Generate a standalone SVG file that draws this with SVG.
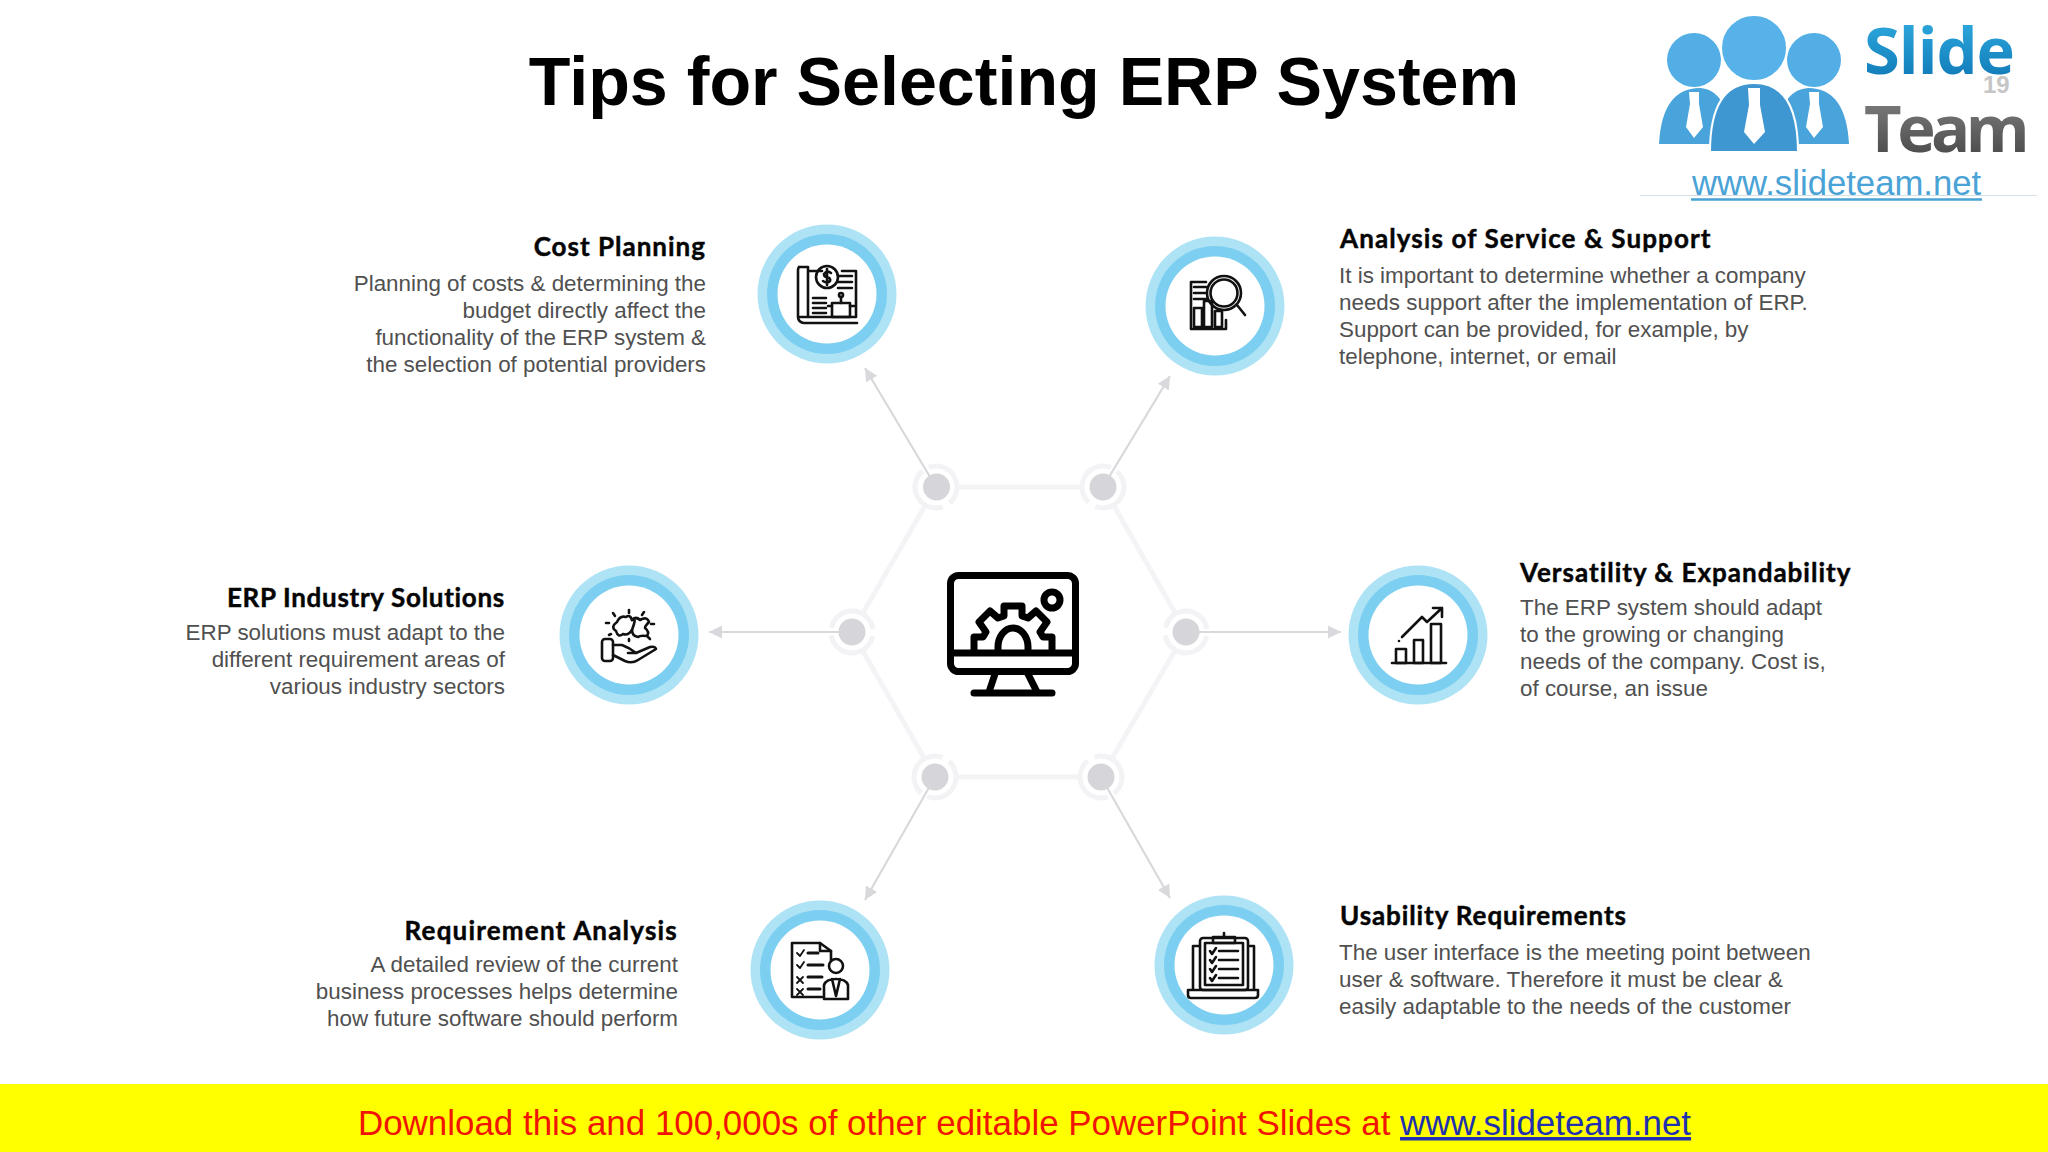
<svg xmlns="http://www.w3.org/2000/svg" xmlns:xlink="http://www.w3.org/1999/xlink" width="2048" height="1152" viewBox="0 0 2048 1152">
<style>
.h{font:700 26px Lato,"Liberation Sans",sans-serif;letter-spacing:1px;fill:#050505;stroke:#050505;stroke-width:.45}
.b{font:400 22.4px "Liberation Sans",Arial,sans-serif;fill:#505050}
.r{text-anchor:end}
.ic{fill:none;stroke:#111;stroke-width:2.6;stroke-linejoin:round;stroke-linecap:round}
.hex{fill:none;stroke:#f4f3f6;stroke-width:5}
.ring{fill:none;stroke:#f3f2f5;stroke-width:5;stroke-dasharray:58 8;stroke-dashoffset:-4}
.dot{fill:#d6d5d9}
.arr{fill:none;stroke:#d9d8dc;stroke-width:2.2;marker-end:url(#ah)}
</style>
<defs>
<marker id="ah" markerUnits="userSpaceOnUse" markerWidth="14" markerHeight="14" refX="13" refY="6.5" orient="auto"><path d="M0 0L13 6.5L0 13Z" fill="#d9d8dc"/></marker>
<linearGradient id="sg" x1="0" y1="0" x2="0" y2="1"><stop offset="0" stop-color="#35b4e6"/><stop offset="1" stop-color="#0a70b0"/></linearGradient>
<linearGradient id="tg" x1="0" y1="0" x2="0" y2="1"><stop offset="0" stop-color="#8a8a8a"/><stop offset="1" stop-color="#3f3f3f"/></linearGradient>
<g id="disc"><circle r="69.500" fill="#aee3f6"/><circle r="60" fill="#7ccff0"/><circle r="49.500" fill="#fff"/></g>
</defs>
<rect width="2048" height="1152" fill="#fff"/>
<text x="1024" y="105" text-anchor="middle" font-family="Liberation Sans,Arial,sans-serif" font-weight="700" font-size="68.200" fill="#000">Tips for Selecting ERP System</text>

<g id="connectors">
<path class="hex" d="M957 487H1082M1113.500 505L1175.600 613.800M1175.400 650L1111.600 759M1080 777H956M924.600 758.800L862.400 650.200M862.500 613.800L925.500 505"/>
<path class="arr" d="M936 487L865 368"/>
<path class="arr" d="M1103 487L1170 376"/>
<path class="arr" d="M1186 632H1341"/>
<path class="arr" d="M852 632H709"/>
<path class="arr" d="M935 777L865 900"/>
<path class="arr" d="M1101 777L1170 898"/>
</g>
<g id="hub-nodes">
<g id="hub1"><circle class="ring" cx="936" cy="487" r="21" transform="rotate(-121 936 487)"/><circle class="dot" cx="936.500" cy="487" r="13.500"/></g>
<g id="hub2"><circle class="ring" cx="1103" cy="487" r="21" transform="rotate(-59 1103 487)"/><circle class="dot" cx="1103" cy="487" r="13.500"/></g>
<g id="hub3"><circle class="ring" cx="1186" cy="632" r="21"/><circle class="dot" cx="1186" cy="632" r="13.500"/></g>
<g id="hub4"><circle class="ring" cx="852" cy="632" r="21"/><circle class="dot" cx="852" cy="632" r="13.500"/></g>
<g id="hub5"><circle class="ring" cx="935" cy="777" r="21" transform="rotate(120 935 777)"/><circle class="dot" cx="935" cy="777" r="13.500"/></g>
<g id="hub6"><circle class="ring" cx="1101" cy="777" r="21" transform="rotate(60 1101 777)"/><circle class="dot" cx="1101" cy="777" r="13.500"/></g>
</g>

<g id="center-icon" fill="none" stroke="#000" stroke-width="7" stroke-linejoin="round" stroke-linecap="round">
<rect x="950.500" y="575.500" width="125" height="96" rx="8"/>
<path d="M950.500 653H1075.500"/>
<path d="M974 652V637H983L986 632L979 622L990 611L998 618L1004 616V606H1022V616L1028 618L1036 611L1047 622L1040 632L1043 637H1052V652"/>
<path d="M998 652V647A15 19 0 0 1 1028 647V652"/>
<circle cx="1052" cy="600" r="8"/>
<path d="M995 674L989 692M1028 674L1037 692"/>
<path d="M974 693H1052" stroke-width="7"/>
</g>

<g id="cost-planning">
<use xlink:href="#disc" href="#disc" x="827" y="294"/>
<g class="ic" stroke-width="2.300">
<path d="M799 267H808V317M799 267A5 5 0 0 0 798 270V317H856V271H842M822 271H808M798 317A6 6 0 0 0 804 323H857"/>
<circle cx="827" cy="277" r="11"/>
<path d="M831 273Q827 270 824 274Q824 277 827 277Q831 278 830 281Q827 284 823 281M827 269V285"/>
<path d="M838 276H852M838 282H852M838 288H852M813 298H826M813 303H826M813 308H826M813 313H826"/>
<rect x="832" y="303" width="18" height="14"/><path d="M828 306H832M850 306H854M841 297V303"/><circle cx="841" cy="295" r="2"/>
</g>
<text class="h r" x="706" y="256">Cost Planning</text>
<text class="b r"><tspan x="706" y="291">Planning of costs &amp; determining the</tspan><tspan x="706" y="318">budget directly affect the</tspan><tspan x="706" y="345">functionality of the ERP system &amp;</tspan><tspan x="706" y="372">the selection of potential providers</tspan></text>
</g>

<g id="analysis-of-service">
<use xlink:href="#disc" href="#disc" x="1215" y="306"/>
<g class="ic" stroke-width="2.300">
<path d="M1206 282H1191V329H1226V320"/>
<circle cx="1224" cy="293" r="17"/><circle cx="1224" cy="293" r="13.500"/>
<path d="M1237 305L1245 315"/>
<path d="M1194 287H1206M1194 293H1206M1194 299H1206"/>
<path d="M1194 308H1202V327H1194ZM1204 301H1212V327H1204ZM1215 311H1222V327H1215Z"/>
</g>
<text class="h" x="1340" y="248" style="letter-spacing:1.100px">Analysis of Service &amp; Support</text>
<text class="b"><tspan x="1339" y="283">It is important to determine whether a company</tspan><tspan x="1339" y="310">needs support after the implementation of ERP.</tspan><tspan x="1339" y="337">Support can be provided, for example, by</tspan><tspan x="1339" y="364">telephone, internet, or email</tspan></text>
</g>

<g id="versatility">
<use xlink:href="#disc" href="#disc" x="1418" y="635"/>
<g class="ic">
<path d="M1392 663H1446"/>
<rect x="1396" y="649" width="10" height="14"/><rect x="1414" y="640" width="9" height="23"/><rect x="1431" y="624" width="10" height="39"/>
<path d="M1402 637L1422 617L1427 622L1442 608M1433 608H1442V617"/><path d="M1399 641V641"/>
</g>
<text class="h" x="1520" y="582">Versatility &amp; Expandability</text>
<text class="b"><tspan x="1520" y="615">The ERP system should adapt</tspan><tspan x="1520" y="642">to the growing or changing</tspan><tspan x="1520" y="669">needs of the company. Cost is,</tspan><tspan x="1520" y="696">of course, an issue</tspan></text>
</g>

<g id="erp-industry">
<use xlink:href="#disc" href="#disc" x="629" y="635"/>
<g class="ic" stroke-width="2">
<rect x="602" y="639" width="11" height="22" rx="3"/>
<path d="M613 645H622Q630 648 636 653M613 655L625 661Q632 664 638 660L656 649Q655 646 650 647L636 653H628"/>
<path d="M617 622Q620 615 626 617Q630 614 632 620Q636 618 634 624L632 630Q628 636 623 634Q618 638 616 631Q610 627 617 622Z"/>
<path d="M632 620Q636 616 640 620Q647 616 649 622Q645 626 645 628Q650 632 647 636Q640 635 638 637Q632 636 632 630"/>
<path d="M613 613L615 616M629 610V613M644 612L642 615M606 623H609M651 624H654M609 635L611 634M650 639L648 637M629 641V639"/>
</g>
<text class="h r" x="505" y="607" style="letter-spacing:.7px">ERP Industry Solutions</text>
<text class="b r"><tspan x="505" y="640">ERP solutions must adapt to the</tspan><tspan x="505" y="667">different requirement areas of</tspan><tspan x="505" y="694">various industry sectors</tspan></text>
</g>

<g id="requirement-analysis">
<use xlink:href="#disc" href="#disc" x="820" y="970"/>
<g class="ic" stroke-width="2.300">
<path d="M831 961V951L820 943H792V997H822"/>
<path d="M820 943V951H831"/>
<path d="M797 953L800 956L804 950M797 965L800 968L804 962M797 977L803 983M803 977L797 983M797 989L803 995M803 989L797 995" stroke-width="1.800"/>
<path d="M808 953H818M808 965H823M808 977H822M808 989H820" stroke-width="3"/>
<circle cx="836" cy="966" r="7"/>
<path d="M824 999V985Q826 979 836 979Q846 979 848 985V999ZM832 979L836 996L840 979"/>
</g>
<text class="h r" x="678" y="940" style="letter-spacing:1.200px">Requirement Analysis</text>
<text class="b r"><tspan x="678" y="972">A detailed review of the current</tspan><tspan x="678" y="999">business processes helps determine</tspan><tspan x="678" y="1026">how future software should perform</tspan></text>
</g>

<g id="usability">
<use xlink:href="#disc" href="#disc" x="1224" y="965"/>
<g class="ic" stroke-width="2.300">
<path d="M1200 946H1193V989M1249 946H1254V989"/>
<rect x="1200" y="938" width="48" height="52" rx="3"/>
<rect x="1205" y="943" width="38" height="42"/>
<path d="M1213 937H1235V943H1213ZM1224 937V933"/>
<path d="M1210 951L1212 954L1216 948M1210 960L1212 963L1216 957M1210 969L1212 972L1216 966M1210 978L1212 981L1216 975"/>
<path d="M1219 951H1238M1219 960H1238M1219 969H1238M1219 978H1238"/>
<path d="M1188 990H1258V995Q1258 998 1255 998H1191Q1188 998 1188 995Z"/>
</g>
<text class="h" x="1340" y="925" style="letter-spacing:.9px">Usability Requirements</text>
<text class="b"><tspan x="1339" y="960">The user interface is the meeting point between</tspan><tspan x="1339" y="987">user &amp; software. Therefore it must be clear &amp;</tspan><tspan x="1339" y="1014">easily adaptable to the needs of the customer</tspan></text>
</g>

<g id="logo">
<rect x="1640" y="0" width="408" height="195" fill="#fff"/>
<path d="M1640 195.500H2037" stroke="#d5dfe6" stroke-width="1"/>
<circle cx="1694" cy="60" r="27" fill="#54aee6"/><circle cx="1814" cy="60" r="27" fill="#54aee6"/>
<circle cx="1754" cy="48" r="33" fill="#56b2e8" stroke="#fff" stroke-width="2"/>
<path d="M1659 144Q1662 88 1700 88Q1729 90 1732 144ZM1776 144Q1778 90 1808 88Q1846 88 1849 144Z" fill="#4aa4dc"/>
<path d="M1710 152Q1710 83 1754 83Q1798 83 1798 152Z" fill="#3f97d2" stroke="#fff" stroke-width="2"/>
<path d="M1689 92H1699V104L1703 127L1694 138L1686 127L1690 104ZM1748 88H1760V105L1765 132L1754 144L1744 132L1749 105ZM1809 92H1819V104L1823 127L1814 138L1806 127L1810 104Z" fill="#fff"/>
<text x="1864" y="74" font-family="Open Sans,Liberation Sans,sans-serif" font-weight="700" font-size="65" letter-spacing="-1" fill="url(#sg)">Slide</text>
<text x="1864" y="152" font-family="Open Sans,Liberation Sans,sans-serif" font-weight="700" font-size="65" letter-spacing="-4.500" fill="url(#tg)">Team</text>
<text x="1983" y="93" font-family="Liberation Sans,sans-serif" font-weight="700" font-size="24" fill="#c6c6c6">19</text>
<text x="1692" y="195" font-family="Liberation Sans,sans-serif" font-size="34.700" fill="#4aa3d6">www.slideteam.net</text>
<path d="M1691 199.500H1982" stroke="#4aa3d6" stroke-width="2.500"/>
</g>

<g id="banner">
<rect y="1084" width="2048" height="68" fill="#ffff00"/>
<text x="358" y="1135" font-family="Liberation Sans,sans-serif" font-size="34.920" fill="#f01505">Download this and 100,000s of other editable PowerPoint Slides at <tspan fill="#2030b0" text-decoration="underline">www.slideteam.net</tspan></text>
</g>
</svg>
